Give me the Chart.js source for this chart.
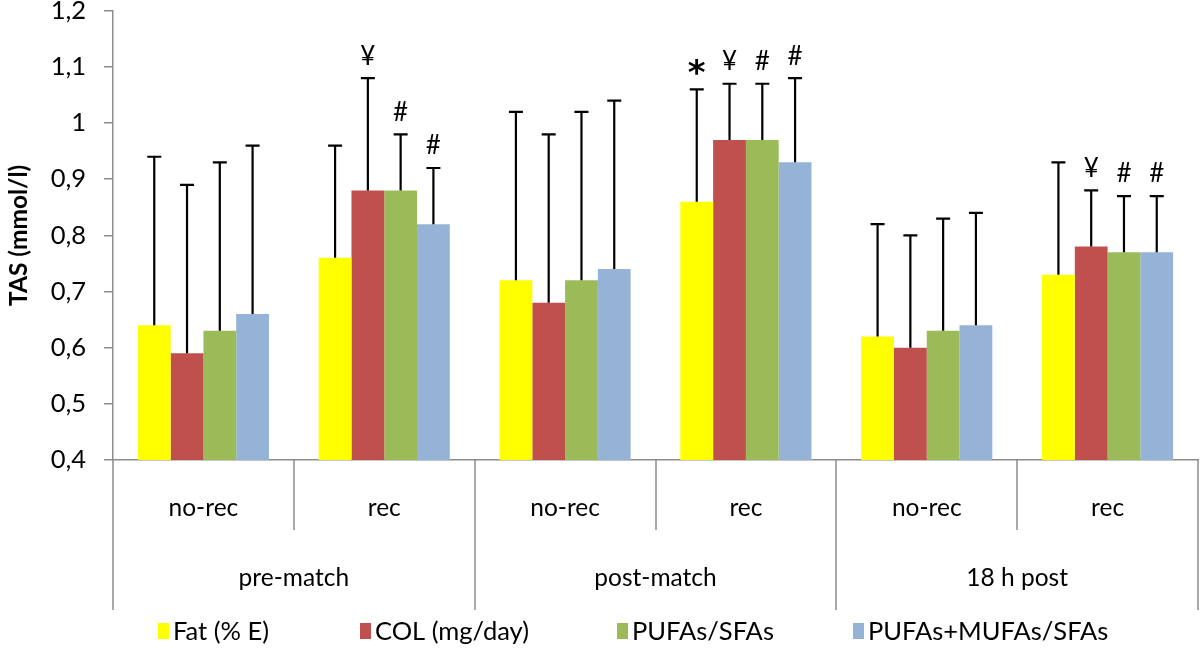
<!DOCTYPE html>
<html>
<head>
<meta charset="utf-8">
<script src="https://cdn.jsdelivr.net/npm/chart.js@4/dist/chart.umd.min.js"></script>
<style>
  body { margin: 0; background: #fff; }
  #wrap { width: 1200px; height: 658px; overflow: hidden; }
  #mychart { display: block; margin-top: -20px; }
</style>
</head>
<body>
<div id="wrap"><canvas id="mychart" width="1200" height="678"></canvas></div>
<script>
// categories
const subLabels = ['no-rec', 'rec', 'no-rec', 'rec', 'no-rec', 'rec'];
const groupLabels = ['pre-match', 'post-match', '18 h post'];
const seriesNames = ['Fat (% E)', 'COL (mg/day)', 'PUFAs/SFAs', 'PUFAs+MUFAs/SFAs'];

// means
const fatVals = [0.64, 0.76, 0.72, 0.86, 0.62, 0.73];
const colVals = [0.59, 0.88, 0.68, 0.97, 0.60, 0.78];
const pufaVals = [0.63, 0.88, 0.72, 0.97, 0.63, 0.77];
const pmVals = [0.66, 0.82, 0.74, 0.93, 0.64, 0.77];

// upper error (SD)
const fatSD = [0.30, 0.20, 0.30, 0.20, 0.20, 0.20];
const colSD = [0.30, 0.20, 0.30, 0.10, 0.20, 0.10];
const pufaSD = [0.30, 0.10, 0.30, 0.10, 0.20, 0.10];
const pmSD = [0.30, 0.10, 0.30, 0.15, 0.20, 0.10];

// significance marks
const fatMarks = ['', '', '', '*', '', ''];
const colMarks = ['', '¥', '', '¥', '', '¥'];
const pufaMarks = ['', '#', '', '#', '', '#'];
const pmMarks = ['', '#', '', '#', '', '#'];

const colors = ['#FFFF00', '#C0504D', '#9BBB59', '#95B3D7'];
const FONT = 'Lato, "Open Sans", sans-serif';
const gray = '#8c8c8c';

const allVals = [fatVals, colVals, pufaVals, pmVals];
const allSD = [fatSD, colSD, pufaSD, pmSD];
const allMarks = [fatMarks, colMarks, pufaMarks, pmMarks];

const errorBars = {
  id: 'errorBars',
  afterDatasetsDraw(chart) {
    const ctx = chart.ctx;
    const y = chart.scales.y;
    ctx.save();
    ctx.strokeStyle = '#000';
    ctx.lineWidth = 2.2;
    ctx.fillStyle = '#000';
    ctx.textAlign = 'center';
    ctx.textBaseline = 'bottom';
    chart.data.datasets.forEach((ds, i) => {
      const meta = chart.getDatasetMeta(i);
      meta.data.forEach((bar, j) => {
        const top = y.getPixelForValue(allVals[i][j] + allSD[i][j]);
        ctx.beginPath();
        ctx.moveTo(bar.x, bar.y);
        ctx.lineTo(bar.x, top);
        ctx.moveTo(bar.x - 7, top);
        ctx.lineTo(bar.x + 7, top);
        ctx.stroke();
        const m = allMarks[i][j];
        if (m === '*') {
          // the asterisk sits high in the font, so push it down
          ctx.font = 'bold 34px "DejaVu Sans", sans-serif';
          ctx.fillText(m, bar.x, top + 3);
        } else if (m) {
          ctx.font = '26px ' + FONT;
          ctx.fillText(m, bar.x, top - 9);
        }
      });
    });
    ctx.restore();
  }
};

const groupAxis = {
  id: 'groupAxis',
  afterDraw(chart) {
    const ctx = chart.ctx;
    const x = chart.scales.x;
    const area = chart.chartArea;
    const n = subLabels.length;
    const step = (area.right - area.left) / n;
    ctx.save();
    ctx.strokeStyle = gray;
    ctx.lineWidth = 1.5;
    for (let k = 0; k <= n; k++) {
      const px = Math.round(area.left + k * step);
      const len = (k % 2 === 0) ? 150 : 70;
      ctx.beginPath();
      ctx.moveTo(px, area.bottom);
      ctx.lineTo(px, area.bottom + len);
      ctx.stroke();
    }
    ctx.fillStyle = '#000';
    ctx.font = '24.5px ' + FONT;
    ctx.textAlign = 'center';
    ctx.textBaseline = 'middle';
    subLabels.forEach((l, k) => {
      ctx.fillText(l, x.getPixelForValue(k), area.bottom + 48);
    });
    groupLabels.forEach((l, k) => {
      ctx.fillText(l, area.left + (2 * k + 1) * step, area.bottom + 118);
    });

    // legend row
    const legX = [158, 360, 617, 853];
    const legY = area.bottom + 171;
    ctx.textAlign = 'left';
    ctx.font = '25.5px ' + FONT;
    seriesNames.forEach((name, i) => {
      ctx.fillStyle = colors[i];
      ctx.fillRect(legX[i], legY - 8, 11, 16);
      ctx.fillStyle = '#000';
      ctx.fillText(name, legX[i] + 15, legY + 1);
    });
    ctx.restore();
  }
};

const data = {
  labels: subLabels,
  datasets: seriesNames.map((name, i) => ({
    label: name,
    data: allVals[i],
    backgroundColor: colors[i],
    borderWidth: 0,
    categoryPercentage: 0.725,
    barPercentage: 1.0
  }))
};

const config = {
  type: 'bar',
  data: data,
  options: {
    responsive: false,
    animation: false,
    layout: { padding: { top: 0, right: 2, left: 0, bottom: 48 } },
    plugins: {
      tooltip: { enabled: false },
      legend: { display: false }
    },
    scales: {
      x: {
        ticks: { display: false },
        grid: { display: false },
        border: { display: true, color: gray, width: 1.5 },
        afterFit: s => { s.height = 150; }
      },
      y: {
        min: 0.4,
        max: 1.2,
        ticks: {
          stepSize: 0.1,
          color: '#000',
          font: { family: FONT, size: 25.5, lineHeight: 1 },
          padding: 18,
          callback: v => String(Number(v.toFixed(1))).replace('.', ',')
        },
        grid: { drawOnChartArea: false, tickLength: 9, color: gray, lineWidth: 1.5 },
        border: { color: gray, width: 1.5 },
        title: {
          display: true,
          text: 'TAS (mmol/l)',
          color: '#000',
          padding: { top: 4, bottom: 0 },
          font: { family: FONT, size: 24.5, weight: 'bold' }
        },
        afterFit: s => { s.width = 113; }
      }
    }
  },
  plugins: [errorBars, groupAxis]
};

let chart = new Chart(document.querySelector('#mychart'), config);
</script>
</body>
</html>
